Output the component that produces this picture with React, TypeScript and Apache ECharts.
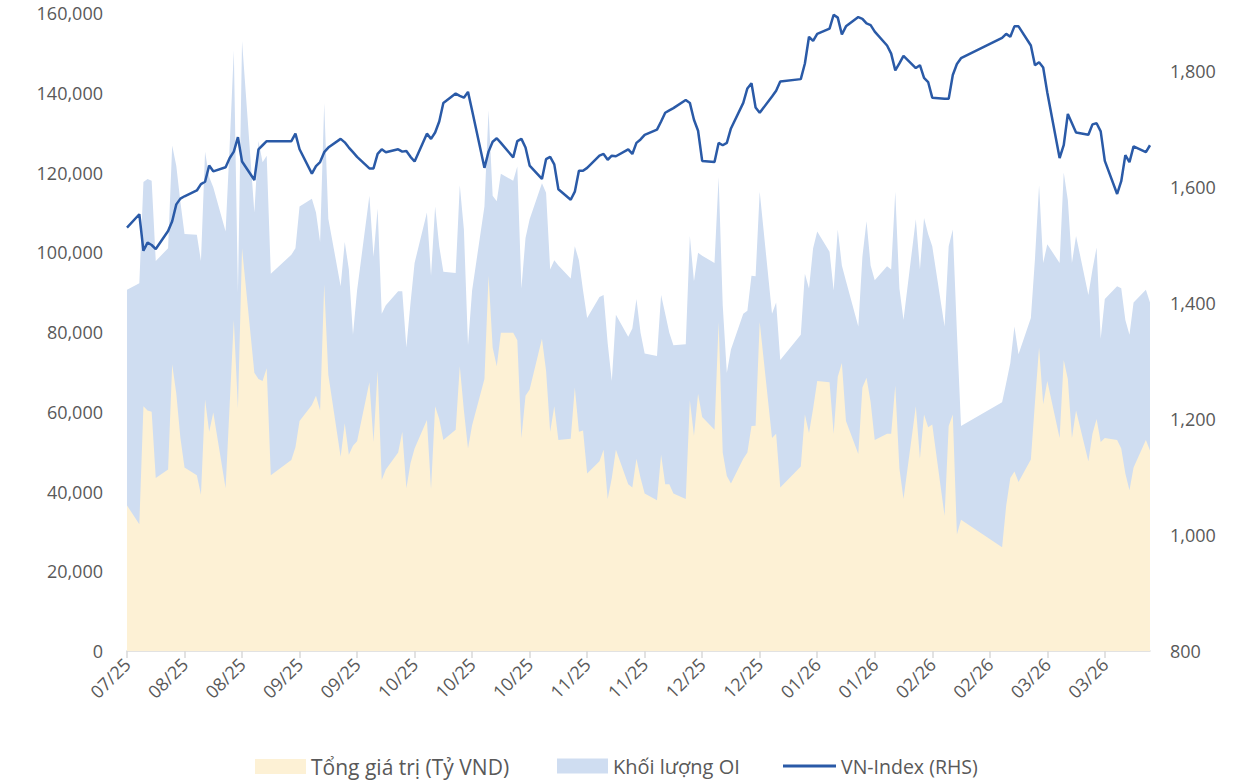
import React, { useEffect, useRef } from "react";
import * as echarts from "echarts";

const dates = [
  "2025-07-25","2025-07-28","2025-07-29","2025-07-30","2025-07-31","2025-08-01",
  "2025-08-04","2025-08-05","2025-08-06","2025-08-07","2025-08-08",
  "2025-08-11","2025-08-12","2025-08-13","2025-08-14","2025-08-15",
  "2025-08-18","2025-08-19","2025-08-20","2025-08-21","2025-08-22",
  "2025-08-25","2025-08-26","2025-08-27","2025-08-28","2025-08-29",
  "2025-09-03","2025-09-04","2025-09-05",
  "2025-09-08","2025-09-09","2025-09-10","2025-09-11","2025-09-12",
  "2025-09-15","2025-09-16","2025-09-17","2025-09-18","2025-09-19",
  "2025-09-22","2025-09-23","2025-09-24","2025-09-25","2025-09-26",
  "2025-09-29","2025-09-30","2025-10-01","2025-10-02","2025-10-03",
  "2025-10-06","2025-10-07","2025-10-08","2025-10-09","2025-10-10",
  "2025-10-13","2025-10-14","2025-10-15","2025-10-16","2025-10-17",
  "2025-10-20","2025-10-21","2025-10-22","2025-10-23","2025-10-24",
  "2025-10-27","2025-10-28","2025-10-29","2025-10-30","2025-10-31",
  "2025-11-03","2025-11-04","2025-11-05","2025-11-06","2025-11-07",
  "2025-11-10","2025-11-11","2025-11-12","2025-11-13","2025-11-14",
  "2025-11-17","2025-11-18","2025-11-19","2025-11-20","2025-11-21",
  "2025-11-24","2025-11-25","2025-11-26","2025-11-27","2025-11-28",
  "2025-12-01","2025-12-02","2025-12-03","2025-12-04","2025-12-05",
  "2025-12-08","2025-12-09","2025-12-10","2025-12-11","2025-12-12",
  "2025-12-15","2025-12-16","2025-12-17","2025-12-18","2025-12-19",
  "2025-12-22","2025-12-23","2025-12-24","2025-12-25","2025-12-26",
  "2025-12-29","2025-12-30","2025-12-31",
  "2026-01-05","2026-01-06","2026-01-07","2026-01-08","2026-01-09",
  "2026-01-12","2026-01-13","2026-01-14","2026-01-15","2026-01-16",
  "2026-01-19","2026-01-20","2026-01-21","2026-01-22","2026-01-23",
  "2026-01-26","2026-01-27","2026-01-28","2026-01-29","2026-01-30",
  "2026-02-02","2026-02-03","2026-02-04","2026-02-05","2026-02-06",
  "2026-02-09","2026-02-10","2026-02-11","2026-02-12","2026-02-13",
  "2026-02-23","2026-02-24","2026-02-25","2026-02-26","2026-02-27",
  "2026-03-02","2026-03-03","2026-03-04","2026-03-05","2026-03-06",
  "2026-03-09","2026-03-10","2026-03-11","2026-03-12","2026-03-13",
  "2026-03-16","2026-03-17","2026-03-18","2026-03-19","2026-03-20",
  "2026-03-23","2026-03-24","2026-03-25","2026-03-26","2026-03-27",
  "2026-03-30","2026-03-31"
];

// VN-Index (RHS)
const vnIndex = [
  1530,1553,1490,1504,1500,1493,
  1524,1541,1570,1580,1584,
  1594,1605,1609,1637,1627,
  1634,1650,1661,1686,1644,
  1612,1665,1672,1679,1679,
  1679,1692,1665,
  1623,1636,1643,1660,1668,
  1683,1677,1668,1660,1652,
  1632,1632,1657,1665,1660,
  1665,1661,1662,1652,1644,
  1692,1683,1694,1713,1745,
  1761,1757,1754,1764,1732,
  1633,1661,1678,1684,1676,
  1651,1679,1683,1668,1637,
  1614,1648,1652,1639,1596,
  1578,1592,1628,1628,1633,
  1654,1657,1647,1654,1653,
  1665,1657,1676,1682,1690,
  1699,1713,1728,1732,1736,
  1750,1745,1716,1697,1645,
  1643,1676,1672,1676,1701,
  1745,1770,1779,1737,1728,
  1756,1766,1782,
  1786,1813,1859,1852,1864,
  1873,1897,1892,1863,1877,
  1893,1890,1882,1879,1868,
  1844,1830,1801,1813,1826,
  1805,1810,1788,1781,1754,
  1752,1752,1793,1812,1822,
  1857,1864,1859,1877,1877,
  1844,1810,1815,1806,1763,
  1650,1672,1726,1710,1694,
  1690,1708,1710,1696,1645,
  1588,1610,1655,1643,1670,
  1660,1672
];

// Khối lượng OI
const oiVolume = [
  90600,92200,117600,118400,117900,97800,
  101000,126800,121600,112600,104600,
  104400,97800,125200,118900,116300,
  105200,127000,150600,90000,153000,
  110000,127900,122600,124200,94600,
  99400,101000,111500,
  113400,110000,102600,137400,108400,
  91500,102600,95700,79300,90400,
  114200,98900,111000,84600,86700,
  90200,90200,76100,87200,97300,
  110000,94100,111500,101500,95100,
  94800,116800,105700,76700,90400,
  111500,135600,114200,112800,119700,
  117900,121500,90900,103600,108300,
  117300,114900,95700,98000,96700,
  93400,101500,98000,90400,83500,
  88800,89300,77200,67700,84300,
  78800,80900,88300,79800,74600,
  74000,89300,84600,79800,76700,
  76900,104100,92700,99900,99100,
  97300,118900,86700,69800,75600,
  84600,85300,94100,94000,115200,
  84600,87400,73000,
  79300,94600,90900,101000,105200,
  100100,90400,105700,96700,92800,
  81400,98900,107800,96700,93000,
  96500,95700,115200,91000,83000,
  108300,95700,108600,104600,101500,
  81400,101500,105700,80000,56400,
  62400,67200,72200,81400,74400,
  83500,98300,116800,97300,102000,
  97300,120000,113100,97300,104100,
  89300,95700,101200,78300,88300,
  91500,91000,83000,79300,87400,
  90600,87400
];

// Tổng giá trị (Tỷ VND)
const totalValue = [
  36500,31800,61400,60300,60000,43400,
  45500,71900,64500,53400,46000,
  44100,39200,63100,55000,59800,
  40800,62000,83000,60800,101000,
  69800,68200,67700,70900,44100,
  47900,51100,57700,
  61700,64000,60300,92000,69300,
  48700,57100,49200,51500,52600,
  67400,52400,70300,42900,45500,
  49800,55000,40800,47100,50800,
  57900,40600,61400,58200,52900,
  55500,71400,60300,50800,56600,
  68200,94100,76100,71400,79800,
  79800,77900,53400,64000,65600,
  78300,70300,55000,61400,52900,
  53200,66100,55000,55300,44500,
  47600,50500,38100,43400,50500,
  41800,41000,48200,43400,39500,
  37800,49200,41800,41800,39500,
  38100,62900,54000,64500,58700,
  55500,82500,49800,43900,42000,
  48200,49800,56400,56500,82500,
  53400,54500,41000,
  46300,59300,54700,60800,67700,
  67400,54500,68800,72200,57700,
  49400,66100,68500,62400,52900,
  54500,54500,66600,45800,38100,
  61400,48200,59300,56100,56800,
  33900,56400,59300,29200,32900,
  26000,36500,43400,45000,42400,
  48000,62400,76100,61900,67700,
  53400,73000,68200,53400,60300,
  47600,54500,58200,52400,53400,
  52900,50800,44500,40300,46000,
  52900,50300
];

const tickDays = [0, 14, 28, 42, 56, 70, 84, 98, 112, 126, 140, 154, 168, 182, 196, 210, 224, 238];

const START = Date.UTC(2025, 6, 25);
const DAY = 86400000;
const toDay = (s: string) => {
  const [y, m, d] = s.split("-").map(Number);
  return Math.round((Date.UTC(y, m - 1, d) - START) / DAY);
};
const dayLabel = (v: number) => {
  const dt = new Date(START + v * DAY);
  const mm = String(dt.getUTCMonth() + 1).padStart(2, "0");
  const yy = String(dt.getUTCFullYear() % 100).padStart(2, "0");
  return `${mm}/${yy}`;
};

const FONT = "'Open Sans', 'Noto Sans', sans-serif";
const GREY = "#595959";
const YELLOW = "#FDF1D5";
const BLUE = "#CFDDF1";
const LINE = "#2A5AA7";

const legendBase = (fontSize: number) => ({
  top: 756,
  padding: 0,
  itemHeight: 15,
  itemGap: 0,
  textStyle: { fontSize, color: GREY, fontFamily: FONT },
});

export default function App() {
  const ref = useRef<HTMLDivElement>(null);
  useEffect(() => {
    if (!ref.current) return;
    const chart = echarts.init(ref.current, undefined, { renderer: "svg" });
    const days = dates.map(toDay);
    const lastDay = days[days.length - 1];
    const pair = (arr: number[]) => arr.map((v, i) => [days[i], v]);
    chart.setOption({
      animation: false,
      textStyle: { fontFamily: FONT },
      grid: { left: 127, right: 90, top: 13, bottom: 131, containLabel: false },
      legend: [
        {
          ...legendBase(21),
          left: 255,
          itemWidth: 51,
          data: [{ name: "Tổng giá trị (Tỷ VND)", icon: "rect" }],
        },
        {
          ...legendBase(20),
          left: 557,
          itemWidth: 51,
          data: [{ name: "Khối lượng OI", icon: "rect" }],
        },
        {
          ...legendBase(19.5),
          left: 783,
          itemWidth: 53,
          data: [
            {
              name: "VN-Index (RHS)",
              icon: "path://M0,0 L54,0 L54,3 L0,3 Z",
              itemStyle: { color: LINE },
            },
          ],
        },
      ],
      xAxis: {
        type: "value",
        min: 0,
        max: lastDay,
        splitLine: { show: false },
        axisLine: { show: true, lineStyle: { color: "#D9D9D9", width: 1.5 } },
        axisTick: {
          show: true,
          length: 7,
          customValues: tickDays,
          lineStyle: { color: "#D9D9D9", width: 1.5 },
        },
        axisLabel: {
          customValues: tickDays,
          rotate: 45,
          margin: 10,
          fontSize: 18,
          color: GREY,
          fontFamily: FONT,
          formatter: (v: number) => dayLabel(v),
        },
      },
      yAxis: [
        {
          type: "value",
          min: 0,
          max: 160000,
          interval: 20000,
          splitLine: { show: false },
          axisLine: { show: false },
          axisTick: { show: false },
          axisLabel: {
            fontSize: 18,
            color: GREY,
            margin: 24,
            fontFamily: FONT,
            formatter: (v: number) => v.toLocaleString("en-US"),
          },
        },
        {
          type: "value",
          min: 800,
          max: 1900,
          interval: 200,
          position: "right",
          splitLine: { show: false },
          axisLine: { show: false },
          axisTick: { show: false },
          axisLabel: {
            fontSize: 18,
            color: GREY,
            margin: 20,
            showMaxLabel: false,
            fontFamily: FONT,
            formatter: (v: number) => (v >= 1900 ? "" : v.toLocaleString("en-US")),
          },
        },
      ],
      series: [
        {
          name: "Khối lượng OI",
          type: "line",
          yAxisIndex: 0,
          data: pair(oiVolume),
          symbol: "none",
          lineStyle: { width: 0, color: BLUE },
          itemStyle: { color: BLUE },
          areaStyle: { color: BLUE, opacity: 1 },
          z: 1,
        },
        {
          name: "Tổng giá trị (Tỷ VND)",
          type: "line",
          yAxisIndex: 0,
          data: pair(totalValue),
          symbol: "none",
          lineStyle: { width: 0, color: YELLOW },
          itemStyle: { color: YELLOW },
          areaStyle: { color: YELLOW, opacity: 1 },
          z: 2,
        },
        {
          name: "VN-Index (RHS)",
          type: "line",
          yAxisIndex: 1,
          data: pair(vnIndex),
          symbol: "none",
          lineStyle: { width: 2.5, color: LINE },
          itemStyle: { color: LINE },
          z: 3,
        },
      ],
    });
    return () => chart.dispose();
  }, []);
  return (
    <div
      ref={ref}
      style={{ position: "absolute", left: 0, top: 0, width: 1240, height: 782 }}
    />
  );
}
